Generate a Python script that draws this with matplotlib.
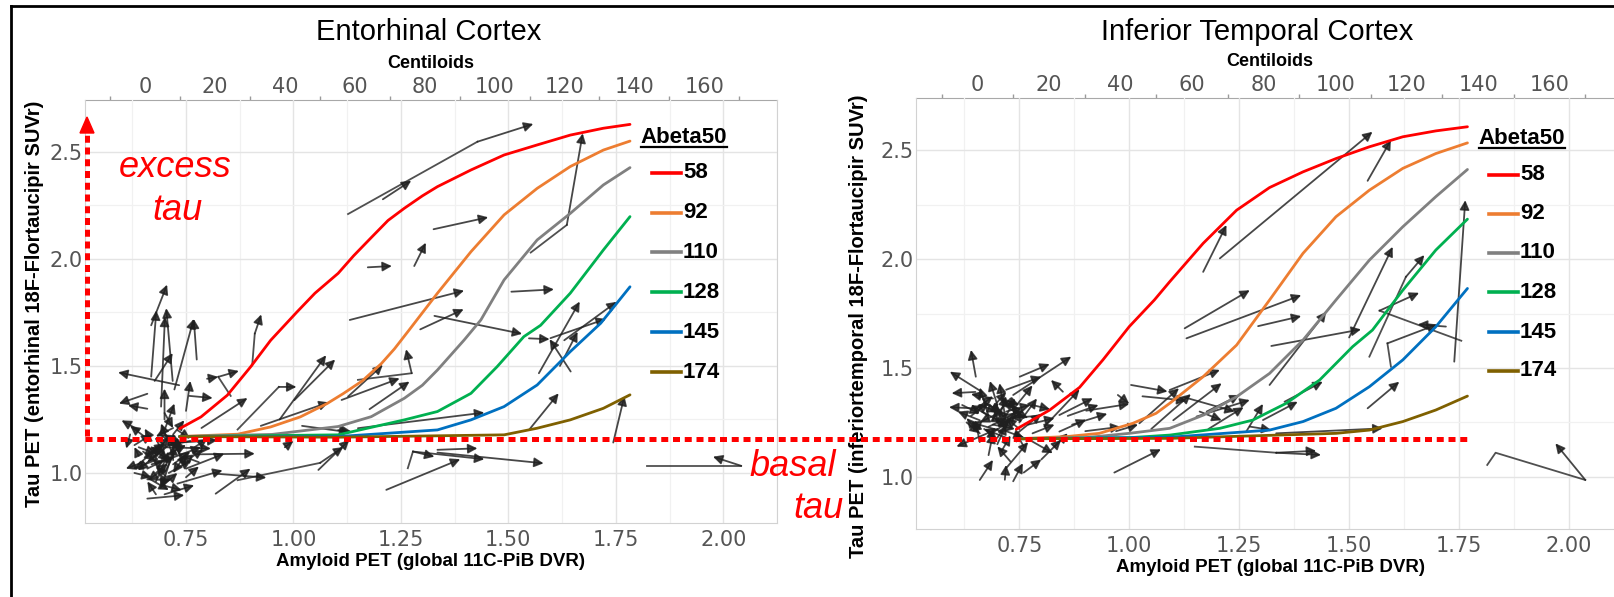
import matplotlib
matplotlib.use("Agg")
import matplotlib.pyplot as plt
from matplotlib.lines import Line2D
from matplotlib.patches import Polygon

# ---------------- data ----------------
abeta_labels = ["58", "92", "110", "128", "145", "174"]
abeta_colors = ["#ff0000", "#ed7d31", "#808080", "#00b050", "#0070c0", "#7f6000"]

# model curves, entorhinal cortex (x = PiB DVR, y = tau SUVr)
ec_curve_x = [
    [0.735, 0.785, 0.846, 0.900, 0.947, 1.008, 1.050, 1.104, 1.140, 1.181, 1.220, 1.258, 1.300, 1.335, 1.413,
     1.490, 1.567, 1.644, 1.721, 1.783],
    [0.735, 0.870, 0.947, 1.016, 1.078, 1.116, 1.160, 1.204, 1.235, 1.266, 1.335, 1.413, 1.490, 1.567, 1.644,
     1.721, 1.783],
    [0.735, 0.950, 1.104, 1.181, 1.258, 1.300, 1.335, 1.397, 1.436, 1.490, 1.567, 1.644, 1.721, 1.783],
    [0.735, 1.104, 1.258, 1.335, 1.413, 1.474, 1.536, 1.575, 1.644, 1.721, 1.783],
    [0.735, 1.104, 1.335, 1.413, 1.490, 1.567, 1.644, 1.715, 1.783],
    [0.735, 1.104, 1.490, 1.567, 1.644, 1.721, 1.783],
]
ec_curve_y = [
    [1.207, 1.262, 1.363, 1.495, 1.620, 1.752, 1.840, 1.933, 2.015, 2.100, 2.180, 2.237, 2.295, 2.338, 2.416,
     2.486, 2.533, 2.579, 2.611, 2.629],
    [1.170, 1.181, 1.215, 1.262, 1.324, 1.371, 1.430, 1.510, 1.580, 1.660, 1.840, 2.034, 2.206, 2.330, 2.432,
     2.509, 2.551],
    [1.170, 1.180, 1.217, 1.263, 1.349, 1.410, 1.481, 1.621, 1.715, 1.902, 2.089, 2.213, 2.346, 2.427],
    [1.170, 1.178, 1.248, 1.287, 1.372, 1.497, 1.637, 1.690, 1.840, 2.042, 2.198],
    [1.170, 1.170, 1.201, 1.248, 1.310, 1.411, 1.567, 1.700, 1.870],
    [1.170, 1.167, 1.178, 1.209, 1.248, 1.302, 1.365],
]

# model curves, inferior temporal cortex
it_curve_x = [
    [0.743, 0.819, 0.887, 0.940, 1.000, 1.057, 1.092, 1.168, 1.244, 1.319, 1.395, 1.470, 1.546, 1.622, 1.697, 1.769],
    [0.743, 0.857, 0.932, 1.008, 1.061, 1.092, 1.168, 1.244, 1.319, 1.395, 1.470, 1.546, 1.622, 1.697, 1.769],
    [0.743, 0.900, 1.000, 1.092, 1.170, 1.244, 1.319, 1.395, 1.470, 1.546, 1.622, 1.697, 1.769],
    [0.743, 1.000, 1.092, 1.206, 1.281, 1.357, 1.433, 1.508, 1.553, 1.622, 1.697, 1.769],
    [0.743, 1.092, 1.319, 1.395, 1.470, 1.546, 1.622, 1.697, 1.769],
    [0.743, 1.092, 1.470, 1.546, 1.622, 1.697, 1.769],
]
it_curve_y = [
    [1.219, 1.307, 1.411, 1.537, 1.690, 1.812, 1.896, 2.072, 2.224, 2.328, 2.400, 2.461, 2.515, 2.561, 2.588, 2.607],
    [1.175, 1.185, 1.200, 1.246, 1.292, 1.338, 1.460, 1.605, 1.812, 2.026, 2.194, 2.316, 2.416, 2.484, 2.533],
    [1.175, 1.180, 1.200, 1.223, 1.285, 1.368, 1.475, 1.628, 1.812, 1.995, 2.148, 2.286, 2.411],
    [1.175, 1.180, 1.192, 1.223, 1.261, 1.338, 1.445, 1.598, 1.674, 1.857, 2.041, 2.183],
    [1.175, 1.182, 1.215, 1.254, 1.315, 1.414, 1.537, 1.689, 1.865],
    [1.175, 1.177, 1.200, 1.215, 1.254, 1.307, 1.371],
]

# individual trajectories, entorhinal: start -> end (arrow at end)
ec_x0 = [0.669, 0.669, 0.719, 0.692, 0.775, 0.723, 0.734, 0.677, 0.750, 0.758, 0.786, 0.660, 0.660, 0.640, 0.620,
         0.700, 0.720, 0.777, 0.816, 0.819, 0.700, 0.670, 0.720, 0.740, 0.700, 0.750, 0.730, 0.700, 0.660, 0.700,
         0.680, 0.690, 0.660, 0.720, 0.650, 0.680, 0.670, 0.710, 0.690, 0.720, 0.640, 0.700, 0.680, 0.710, 0.730,
         0.680, 0.660, 0.750, 0.640, 0.690, 0.650, 0.720, 0.760, 0.780, 0.630, 0.700, 0.799, 0.980, 1.020, 1.104,
         0.660, 0.700, 0.720, 0.670, 0.740, 0.690, 0.710, 0.750, 0.630, 0.680, 0.730, 0.660, 0.770, 0.700, 0.650,
         0.720, 0.690, 0.760, 0.640, 0.710,
         0.968, 1.002, 0.924, 1.058, 1.208, 1.326, 1.281, 1.173, 1.131, 1.295, 1.328, 1.507, 1.571, 1.645, 1.548,
         1.598, 1.630, 1.620, 1.112, 1.127, 1.177, 1.150, 1.548, 1.744, 1.335, 1.278, 1.335, 1.216]
ec_y0 = [1.690, 1.450, 1.430, 1.310, 1.530, 1.390, 1.410, 1.430, 1.290, 1.360, 1.210, 1.370, 1.300, 1.200, 1.180,
         1.200, 1.180, 1.087, 0.997, 0.903, 1.250, 1.150, 1.080, 1.050, 1.120, 1.020, 0.950, 0.900, 0.880, 1.020,
         1.060, 1.100, 0.970, 1.100, 1.100, 1.000, 1.040, 1.000, 1.050, 1.140, 1.080, 1.000, 1.160, 1.130, 1.110,
         0.960, 1.020, 1.090, 1.040, 0.930, 0.990, 1.210, 1.150, 1.050, 1.130, 1.280, 1.440, 1.120, 1.220, 1.200,
         1.080, 1.070, 1.040, 1.120, 1.130, 1.180, 0.970, 0.980, 1.000, 0.900, 1.200, 1.160, 1.120, 0.940, 1.050,
         1.060, 1.120, 1.070, 1.120, 1.090,
         1.250, 1.340, 1.220, 1.014, 2.279, 2.139, 1.967, 1.961, 1.715, 1.671, 1.734, 1.847, 1.466, 1.474, 1.629,
         1.630, 1.620, 1.500, 1.341, 1.357, 1.298, 1.209, 1.201, 1.142, 1.108, 1.100, 1.095, 0.921]
ec_x1 = [0.706, 0.681, 0.704, 0.701, 0.768, 0.768, 0.592, 0.719, 0.760, 0.812, 0.893, 0.594, 0.615, 0.600, 0.611,
         0.723, 0.746, 0.910, 0.937, 0.900, 0.700, 0.654, 0.692, 0.719, 0.808, 0.839, 0.835, 0.769, 0.746, 0.661,
         0.627, 0.638, 0.715, 0.692, 0.677, 0.708, 0.723, 0.762, 0.785, 0.823, 0.630, 0.738, 0.700, 0.660, 0.750,
         0.710, 0.700, 0.720, 0.690, 0.730, 0.710, 0.680, 0.710, 0.740, 0.670, 0.720, 0.825, 1.000, 1.130, 1.135,
         0.700, 0.670, 0.760, 0.710, 0.700, 0.730, 0.680, 0.780, 0.670, 0.660, 0.760, 0.620, 0.800, 0.740, 0.610,
         0.720, 0.710, 0.790, 0.680, 0.750,
         1.076, 1.097, 1.082, 1.130, 1.274, 1.453, 1.308, 1.229, 1.397, 1.396, 1.532, 1.606, 1.666, 1.596, 1.596,
         1.727, 1.752, 1.661, 1.247, 1.208, 1.270, 1.444, 1.617, 1.770, 1.428, 1.444, 1.582, 1.388]
ec_y1 = [1.880, 1.760, 1.770, 1.730, 1.720, 1.720, 1.470, 1.560, 1.430, 1.350, 1.350, 1.324, 1.316, 1.246, 1.114,
         1.324, 1.246, 1.090, 0.978, 1.020, 1.394, 1.207, 1.231, 1.184, 1.114, 1.090, 1.012, 0.942, 0.896, 0.966,
         1.020, 1.012, 0.966, 0.927, 1.059, 1.044, 1.075, 1.059, 1.121, 1.153, 1.121, 1.153, 1.080, 1.050, 1.030,
         1.100, 1.060, 1.000, 1.130, 1.000, 0.920, 1.170, 1.130, 1.080, 1.180, 1.210, 1.449, 1.150, 1.190, 1.193,
         1.140, 1.120, 1.100, 1.060, 1.180, 1.120, 1.030, 1.030, 0.980, 0.960, 1.160, 1.220, 1.160, 0.920, 1.020,
         1.130, 1.170, 1.110, 1.090, 1.130,
         1.550, 1.530, 1.330, 1.154, 2.366, 2.195, 2.076, 1.967, 1.852, 1.765, 1.650, 1.858, 1.801, 1.625, 1.625,
         1.720, 1.800, 1.660, 1.442, 1.505, 1.427, 1.282, 1.372, 1.360, 1.115, 1.064, 1.045, 1.064]

# trajectories with three or more scans, entorhinal
ec_bent_x = [[0.854, 0.825, 0.873], [0.904, 0.910, 0.925], [0.870, 0.966, 1.007], [0.870, 1.062, 1.116],
             [1.150, 1.275, 1.262], [1.127, 1.428, 1.558], [1.552, 1.636, 1.673], [1.266, 1.278, 1.328],
             [1.822, 2.042, 1.976]]
ec_bent_y = [[1.360, 1.449, 1.477], [1.503, 1.651, 1.741], [1.203, 1.402, 1.402], [0.966, 1.047, 1.121],
             [1.435, 1.466, 1.578], [2.210, 2.548, 2.631], [2.030, 2.159, 2.587], [1.022, 1.100, 1.076],
             [1.033, 1.033, 1.076]]

# individual trajectories, inferior temporal
it_x0 = [0.651, 0.665, 0.650, 0.645, 0.736, 0.751, 0.720, 0.849, 0.807, 0.841, 0.841, 0.902, 0.974, 0.660, 0.717,
         0.736, 0.700, 0.773, 0.680, 0.700, 0.720, 0.740, 0.690, 0.660, 0.710, 0.750, 0.680, 0.720, 0.700, 0.660,
         0.730, 0.690, 0.640, 0.720, 0.750, 0.670, 0.710, 0.680, 0.760, 0.790, 0.630, 0.700, 0.665, 0.745, 0.800,
         0.760, 0.830, 0.660, 0.730, 0.770, 0.870, 0.900, 0.860, 0.720, 0.780,
         0.670, 0.700, 0.730, 0.680, 0.710, 0.740, 0.690, 0.660, 0.720, 0.760, 0.700, 0.650, 0.780, 0.710, 0.680,
         0.730, 0.690, 0.750, 0.620, 0.710,
         1.004, 1.023, 0.966, 1.030, 1.050, 1.100, 1.160, 1.180, 0.970, 1.206, 1.168, 1.542, 1.126, 1.130, 1.293,
         1.319, 1.500, 1.739, 1.720, 1.323, 1.542, 1.092, 1.126, 1.153, 1.176, 1.266, 1.274, 1.304, 1.353, 1.334,
         1.334]
it_y0 = [1.460, 1.390, 1.390, 1.315, 1.376, 1.460, 1.400, 1.391, 1.231, 1.284, 1.208, 1.304, 1.376, 0.986, 0.987,
         0.980, 1.220, 1.170, 1.280, 1.330, 1.250, 1.320, 1.360, 1.260, 1.210, 1.250, 1.190, 1.300, 1.150, 1.330,
         1.360, 1.240, 1.280, 1.180, 1.310, 1.220, 1.280, 1.100, 1.140, 1.280, 1.250, 1.250, 1.300, 1.200, 1.080,
         1.020, 1.140, 1.160, 1.070, 1.240, 1.240, 1.210, 1.280, 1.040, 1.200,
         1.340, 1.290, 1.240, 1.230, 1.360, 1.280, 1.320, 1.200, 1.210, 1.270, 1.180, 1.310, 1.330, 1.120, 1.280,
         1.310, 1.260, 1.220, 1.330, 1.240,
         1.422, 1.246, 1.020, 1.370, 1.220, 1.260, 1.300, 1.220, 1.210, 2.003, 1.941, 2.359, 1.682, 1.636, 1.692,
         1.422, 1.640, 1.529, 1.690, 1.601, 1.315, 1.399, 1.365, 1.277, 1.300, 1.208, 1.231, 1.261, 1.345, 1.200,
         1.111]
it_x1 = [0.640, 0.592, 0.596, 0.590, 0.868, 0.819, 0.800, 0.822, 0.887, 0.917, 0.902, 1.000, 1.000, 0.690, 0.720,
         0.758, 0.607, 0.826, 0.660, 0.683, 0.705, 0.780, 0.640, 0.610, 0.640, 0.790, 0.730, 0.775, 0.720, 0.700,
         0.690, 0.740, 0.680, 0.670, 0.710, 0.700, 0.760, 0.690, 0.740, 0.730, 0.660, 0.720, 0.710, 0.800, 0.845,
         0.800, 0.860, 0.650, 0.700, 0.830, 0.950, 0.980, 0.930, 0.770, 0.830,
         0.710, 0.660, 0.700, 0.720, 0.750, 0.700, 0.720, 0.630, 0.760, 0.730, 0.740, 0.690, 0.820, 0.730, 0.640,
         0.770, 0.700, 0.720, 0.660, 0.740,
         1.087, 1.113, 1.072, 1.130, 1.140, 1.210, 1.210, 1.260, 1.020, 1.553, 1.221, 1.595, 1.274, 1.391, 1.391,
         1.448, 1.599, 1.764, 1.656, 1.527, 1.614, 1.206, 1.240, 1.274, 1.251, 1.304, 1.323, 1.383, 1.440, 1.576,
         1.436]
it_y1 = [1.583, 1.483, 1.384, 1.320, 1.552, 1.518, 1.460, 1.445, 1.402, 1.361, 1.263, 1.335, 1.335, 1.078, 1.055,
         1.063, 1.139, 1.109, 1.410, 1.440, 1.430, 1.420, 1.380, 1.300, 1.250, 1.360, 1.260, 1.330, 1.240, 1.300,
         1.270, 1.220, 1.340, 1.220, 1.350, 1.170, 1.300, 1.200, 1.210, 1.270, 1.200, 1.370, 1.250, 1.290, 1.170,
         1.080, 1.200, 1.260, 1.140, 1.270, 1.290, 1.230, 1.330, 1.160, 1.240,
         1.300, 1.250, 1.310, 1.270, 1.330, 1.230, 1.390, 1.270, 1.180, 1.330, 1.300, 1.370, 1.310, 1.190, 1.330,
         1.270, 1.340, 1.270, 1.290, 1.360,
         1.392, 1.407, 1.127, 1.350, 1.380, 1.430, 1.260, 1.320, 1.240, 2.584, 2.156, 2.546, 1.857, 1.834, 1.738,
         1.758, 2.056, 2.270, 1.700, 1.677, 1.437, 1.491, 1.300, 1.353, 1.376, 1.335, 1.215, 1.345, 1.437, 1.223,
         1.101]

it_bent_x = [[1.546, 1.629, 1.671], [1.755, 1.569, 1.659], [1.595, 1.587, 1.700], [1.149, 1.334, 1.425],
             [1.814, 1.833, 2.037, 1.969]]
it_bent_y = [[1.552, 1.918, 2.018], [1.625, 1.763, 1.845], [1.506, 1.613, 1.700], [1.139, 1.111, 1.120],
             [1.055, 1.111, 0.986, 1.154]]

dvr_ticks = [0.75, 1.00, 1.25, 1.50, 1.75, 2.00]
dvr_minor = [0.625, 0.875, 1.125, 1.375, 1.625, 1.875, 2.125]
suvr_ticks = [1.0, 1.5, 2.0, 2.5]
suvr_minor = [1.25, 1.75, 2.25]
cl_ticks = [0, 20, 40, 60, 80, 100, 120, 140, 160]
cl_minor = [-10, 10, 30, 50, 70, 90, 110, 130, 150, 170]

# ---------------- figure ----------------
W, H = 1614, 597
fig = plt.figure(figsize=(W / 100, H / 100), dpi=100)
fig.patch.set_facecolor("white")


def fx(x):
    return x / W


def fy(y):
    return 1 - y / H


SANS = ["Liberation Sans", "DejaVu Sans"]
ARROW = "#1f1f1f"

ax_ec = fig.add_axes([fx(85), fy(523), 692 / W, 423 / H])
ax_it = fig.add_axes([fx(916), fy(529), 708 / W, 431 / H])


def dvr_to_cl(x):
    return 123.0 * (x - 0.655)


def cl_to_dvr(c):
    return c / 123.0 + 0.655


def style_panel(ax, ylim):
    ax.set_xlim(0.515, 2.12)
    ax.set_ylim(*ylim)
    ax.set_xticks(dvr_ticks)
    ax.set_xticklabels(["%.2f" % v for v in dvr_ticks])
    ax.set_xticks(dvr_minor, minor=True)
    ax.set_yticks(suvr_ticks)
    ax.set_yticklabels(["%.1f" % v for v in suvr_ticks])
    ax.set_yticks(suvr_minor, minor=True)
    ax.grid(which="major", color="#e4e4e4", lw=1.0)
    ax.grid(which="minor", color="#f1f1f1", lw=0.9)
    ax.set_axisbelow(True)
    ax.tick_params(which="both", length=0, labelsize=15, labelcolor="#555555")
    ax.tick_params(axis="x", pad=5)
    ax.tick_params(axis="y", pad=1.5)
    for s in ["left", "right", "bottom"]:
        ax.spines[s].set_color("#d2d2d2")
    ax.spines["top"].set_visible(False)
    sec = ax.secondary_xaxis("top", functions=(dvr_to_cl, cl_to_dvr))
    sec.set_xticks(cl_ticks)
    sec.set_xticks(cl_minor, minor=True)
    sec.tick_params(which="major", length=0, labelsize=15, labelcolor="#555555", pad=2)
    sec.tick_params(which="minor", length=3, width=1, color="#9a9a9a")
    sec.spines["top"].set_color("#a8a8a8")


def draw_arrow(ax, xs, ys):
    if len(xs) > 2:
        ax.plot(xs[:-1], ys[:-1], color=ARROW, lw=1.3, alpha=0.78, zorder=2)
    ax.annotate("", xy=(xs[-1], ys[-1]), xytext=(xs[-2], ys[-2]), zorder=2,
                arrowprops=dict(arrowstyle="-|>,head_length=0.55,head_width=0.28", color=ARROW,
                                lw=1.3, alpha=0.82, shrinkA=0, shrinkB=0, mutation_scale=10))


for ax, cx, cy, x0, y0, x1, y1, bx, by, ylim in [
    (ax_ec, ec_curve_x, ec_curve_y, ec_x0, ec_y0, ec_x1, ec_y1, ec_bent_x, ec_bent_y, (0.766, 2.743)),
    (ax_it, it_curve_x, it_curve_y, it_x0, it_y0, it_x1, it_y1, it_bent_x, it_bent_y, (0.761, 2.739)),
]:
    style_panel(ax, ylim)
    for a, b, c, d in zip(x0, y0, x1, y1):
        draw_arrow(ax, [a, c], [b, d])
    for xs, ys in zip(bx, by):
        draw_arrow(ax, xs, ys)
    for xs, ys, col in zip(cx, cy, abeta_colors):
        ax.plot(xs, ys, color=col, lw=2.0, zorder=3, solid_capstyle="round", solid_joinstyle="round")

# ---------------- texts ----------------
fig.text(fx(429), fy(32), "Entorhinal Cortex", ha="center", va="center", fontsize=21, family=SANS)
fig.text(fx(1257), fy(32), "Inferior Temporal Cortex", ha="center", va="center", fontsize=21, family=SANS)
fig.text(fx(431), fy(64), "Centiloids", ha="center", va="center", fontsize=13, fontweight="bold", family=SANS)
fig.text(fx(1270), fy(62), "Centiloids", ha="center", va="center", fontsize=13, fontweight="bold", family=SANS)
fig.text(fx(431), fy(561), "Amyloid PET (global 11C-PiB DVR)", ha="center", va="center",
         fontsize=13.5, fontweight="bold", family=SANS)
fig.text(fx(1270), fy(567), "Amyloid PET (global 11C-PiB DVR)", ha="center", va="center",
         fontsize=13.5, fontweight="bold", family=SANS)
fig.text(fx(35), fy(304), "Tau PET (entorhinal 18F-Flortaucipir SUVr)", ha="center", va="center",
         rotation=90, fontsize=14.5, fontweight="bold", family=SANS)
fig.text(fx(858), fy(326), "Tau PET (inferiortemporal 18F-Flortaucipir SUVr)", ha="center", va="center",
         rotation=90, fontsize=14.5, fontweight="bold", family=SANS)

# legends
legend_titles = []
for title_xy, line_x, text_x, rows in [
    ((684, 137), (652, 681), 683, [173, 213, 252, 292, 332, 372]),
    ((1522, 138), (1489, 1518), 1520, [175, 214, 253, 292, 332, 371]),
]:
    t = fig.text(fx(title_xy[0]), fy(title_xy[1]), "Abeta50", ha="center", va="center",
                 fontsize=16, fontweight="bold", family=SANS, zorder=6)
    legend_titles.append(t)
    for lab, col, yy in zip(abeta_labels, abeta_colors, rows):
        fig.add_artist(Line2D([fx(line_x[0]), fx(line_x[1])], [fy(yy), fy(yy)], color=col, lw=2.6,
                              transform=fig.transFigure, zorder=6))
        fig.text(fx(text_x), fy(yy), lab, ha="left", va="center", fontsize=16, fontweight="bold",
                 family=SANS, zorder=6)

# red annotations
RED = "#ff0000"
fig.text(fx(175), fy(167), "excess", ha="center", va="center", fontsize=26, style="italic", color=RED, family=SANS)
fig.text(fx(177), fy(210), "tau", ha="center", va="center", fontsize=26, style="italic", color=RED, family=SANS)
fig.text(fx(793), fy(466), "basal", ha="center", va="center", fontsize=26, style="italic", color=RED, family=SANS)
fig.text(fx(818), fy(509), "tau", ha="center", va="center", fontsize=26, style="italic", color=RED, family=SANS)

dots = (0, (1.4, 0.95))
fig.add_artist(Line2D([fx(85), fx(1469)], [fy(439), fy(439)], color=RED, lw=3.6, linestyle=dots,
                      dash_capstyle="butt", transform=fig.transFigure, zorder=10))
fig.add_artist(Line2D([fx(87), fx(87)], [fy(436), fy(133)], color=RED, lw=3.6, linestyle=dots,
                      dash_capstyle="butt", transform=fig.transFigure, zorder=10))
fig.add_artist(Polygon([(fx(80), fy(133)), (fx(94), fy(133)), (fx(87), fy(117))], closed=True,
                       color=RED, transform=fig.transFigure, zorder=10))

# outer frame (top and left edges)
fig.add_artist(Line2D([fx(11), 1.0], [fy(6), fy(6)], color="black", lw=2.0, transform=fig.transFigure))
fig.add_artist(Line2D([fx(11), fx(11)], [fy(6), 0.0], color="black", lw=2.0, transform=fig.transFigure))

# underline the legend titles
fig.canvas.draw()
renderer = fig.canvas.get_renderer()
for t in legend_titles:
    bb = t.get_window_extent(renderer)
    yline = bb.y0 + 1
    fig.add_artist(Line2D([bb.x0 / W, bb.x1 / W], [yline / H, yline / H], color="black", lw=1.6,
                          transform=fig.transFigure, zorder=6))

fig.savefig("out.png", dpi=100)
